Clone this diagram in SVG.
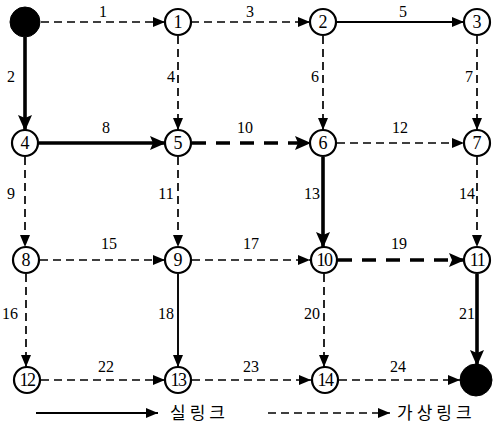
<svg xmlns="http://www.w3.org/2000/svg" width="503" height="431" viewBox="0 0 503 431">
  <style>
    .node circle { fill: #fff; stroke: #000; stroke-width: 2.2; }
    .node text { font-family: "Liberation Serif", serif; font-size: 18px; text-anchor: middle; fill: #000; }
    .term circle { fill: #000; stroke: #000; }
    .lbl { font-family: "Liberation Serif", serif; font-size: 16px; fill: #000; text-anchor: middle; }
    .dash { stroke: #000; stroke-width: 1.7; stroke-dasharray: 8 5; fill: none; marker-end: url(#ah); }
    .real { stroke: #000; stroke-width: 1.9; fill: none; marker-end: url(#ah); }
    .real-bold { stroke: #000; stroke-width: 3.6; fill: none; marker-end: url(#ahb); }
    .dash-bold { stroke: #000; stroke-width: 3.6; stroke-dasharray: 14 10; fill: none; marker-end: url(#ahb); }
    .legend { font-family: "Noto Sans CJK KR", sans-serif; font-size: 17px; letter-spacing: 4px; fill: #000; }
  </style>
  <defs>
    <marker id="ah" markerUnits="userSpaceOnUse" markerWidth="12" markerHeight="10" refX="12" refY="5" orient="auto">
      <path d="M0,0 L12,5 L0,10 Z" fill="#000"/>
    </marker>
    <marker id="ahb" markerUnits="userSpaceOnUse" markerWidth="16" markerHeight="14" refX="15" refY="7" orient="auto">
      <path d="M0,0 L16,7 L0,14 L3,7 Z" fill="#000"/>
    </marker>
    <marker id="ahv" markerUnits="userSpaceOnUse" markerWidth="16" markerHeight="22" refX="15" refY="11" orient="auto">
      <path d="M0,0 L16,11 L0,22 L6,11 Z" fill="#000"/>
    </marker>
  </defs>

  <rect width="503" height="431" fill="#fff"/>

  <!-- links -->
  <g id="links">
    <!-- row 1 -->
    <line class="dash" x1="41" y1="22" x2="165" y2="22"/>
    <line class="dash" x1="191" y1="22" x2="310" y2="22"/>
    <line class="real" x1="337" y1="22" x2="464" y2="22"/>
    <!-- row 1 to row 2 -->
    <line class="real-bold" x1="25" y1="37" x2="25" y2="130"/>
    <line class="dash" x1="178" y1="36" x2="178" y2="130"/>
    <line class="dash" x1="323" y1="36" x2="323" y2="130"/>
    <line class="dash" x1="477" y1="36" x2="477" y2="130"/>
    <!-- row 2 -->
    <line class="real-bold" x1="39" y1="143" x2="165" y2="143"/>
    <line class="dash-bold" x1="192" y1="143" x2="310" y2="143"/>
    <line class="dash" x1="337" y1="143" x2="464" y2="143"/>
    <!-- row 2 to row 3 -->
    <line class="dash" x1="25" y1="157" x2="25" y2="247"/>
    <line class="dash" x1="178" y1="157" x2="178" y2="247"/>
    <line class="real-bold" x1="323" y1="157" x2="323" y2="247"/>
    <line class="dash" x1="477" y1="157" x2="477" y2="247"/>
    <!-- row 3 -->
    <line class="dash" x1="40" y1="260" x2="165" y2="260"/>
    <line class="dash" x1="192" y1="260" x2="310" y2="260"/>
    <line class="dash-bold" x1="338" y1="260" x2="464" y2="260"/>
    <!-- row 3 to row 4 -->
    <line class="dash" x1="26" y1="274" x2="26" y2="367"/>
    <line class="real" x1="178" y1="274" x2="178" y2="367"/>
    <line class="dash" x1="324" y1="274" x2="324" y2="367"/>
    <line class="real-bold" x1="477" y1="274" x2="477" y2="365" marker-end="url(#ahv)"/>
    <!-- row 4 -->
    <line class="dash" x1="41" y1="380" x2="165" y2="380"/>
    <line class="dash" x1="192" y1="380" x2="311" y2="380"/>
    <line class="dash" x1="339" y1="380" x2="460" y2="380"/>
  </g>

  <!-- link numbers -->
  <g id="link-labels">
    <text class="lbl" x="103" y="17">1</text>
    <text class="lbl" x="250" y="17">3</text>
    <text class="lbl" x="403" y="17">5</text>
    <text class="lbl" x="11" y="82">2</text>
    <text class="lbl" x="171" y="82">4</text>
    <text class="lbl" x="315" y="82">6</text>
    <text class="lbl" x="469" y="82">7</text>
    <text class="lbl" x="106" y="133">8</text>
    <text class="lbl" x="245" y="133">10</text>
    <text class="lbl" x="400" y="133">12</text>
    <text class="lbl" x="11" y="199">9</text>
    <text class="lbl" x="166" y="199">11</text>
    <text class="lbl" x="312" y="199">13</text>
    <text class="lbl" x="467" y="199">14</text>
    <text class="lbl" x="109" y="249">15</text>
    <text class="lbl" x="251" y="249">17</text>
    <text class="lbl" x="399" y="249">19</text>
    <text class="lbl" x="10" y="319">16</text>
    <text class="lbl" x="166" y="319">18</text>
    <text class="lbl" x="312" y="319">20</text>
    <text class="lbl" x="467" y="319">21</text>
    <text class="lbl" x="106" y="372">22</text>
    <text class="lbl" x="251" y="372">23</text>
    <text class="lbl" x="398" y="372">24</text>
  </g>

  <!-- nodes -->
  <g id="node-start" class="term"><circle cx="25" cy="22" r="15"/></g>
  <g id="node-1" class="node"><circle cx="178" cy="22" r="13"/><text x="178" y="28">1</text></g>
  <g id="node-2" class="node"><circle cx="323" cy="22" r="13"/><text x="323" y="28">2</text></g>
  <g id="node-3" class="node"><circle cx="477" cy="22" r="13"/><text x="477" y="28">3</text></g>
  <g id="node-4" class="node"><circle cx="25" cy="143" r="13"/><text x="25" y="149">4</text></g>
  <g id="node-5" class="node"><circle cx="178" cy="143" r="13"/><text x="178" y="149">5</text></g>
  <g id="node-6" class="node"><circle cx="323" cy="143" r="13"/><text x="323" y="149">6</text></g>
  <g id="node-7" class="node"><circle cx="477" cy="143" r="13"/><text x="477" y="149">7</text></g>
  <g id="node-8" class="node"><circle cx="26" cy="260" r="13"/><text x="26" y="266">8</text></g>
  <g id="node-9" class="node"><circle cx="178" cy="260" r="13"/><text x="178" y="266">9</text></g>
  <g id="node-10" class="node"><circle cx="324" cy="260" r="13"/><text x="324" y="266" letter-spacing="-1.5">10</text></g>
  <g id="node-11" class="node"><circle cx="477" cy="260" r="13"/><text x="477" y="266" letter-spacing="-1.5">11</text></g>
  <g id="node-12" class="node"><circle cx="27" cy="380" r="13"/><text x="27" y="386" letter-spacing="-1.5">12</text></g>
  <g id="node-13" class="node"><circle cx="178" cy="380" r="13"/><text x="178" y="386" letter-spacing="-1.5">13</text></g>
  <g id="node-14" class="node"><circle cx="325" cy="380" r="13"/><text x="325" y="386" letter-spacing="-1.5">14</text></g>
  <g id="node-end" class="term"><circle cx="476" cy="380" r="16"/></g>

  <!-- legend -->
  <g id="legend">
    <line class="real" x1="36" y1="413" x2="158" y2="413"/>
    <text class="legend" x="170" y="419">실링크</text>
    <line class="dash" x1="268" y1="413" x2="390" y2="413"/>
    <text class="legend" x="397" y="419">가상링크</text>
  </g>
</svg>
